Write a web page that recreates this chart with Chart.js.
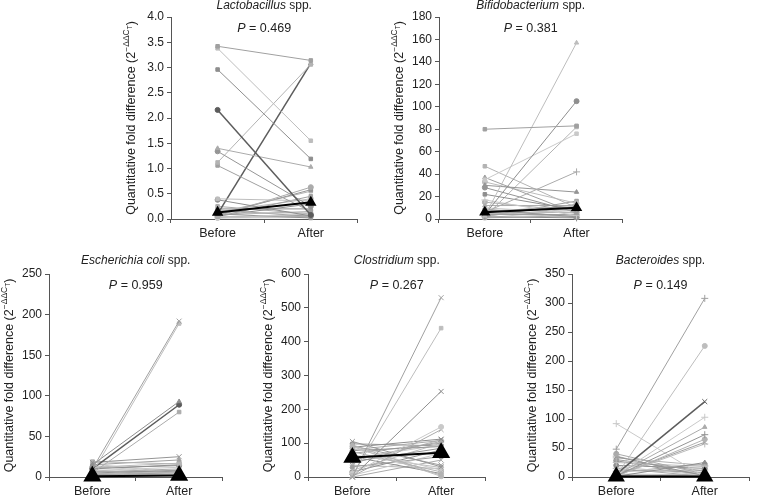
<!DOCTYPE html>
<html>
<head>
<meta charset="utf-8">
<script src="https://cdn.jsdelivr.net/npm/chart.js@4.4.1/dist/chart.umd.min.js"></script>
<style>
  html, body { margin: 0; padding: 0; background: #fff; }
  body { width: 757px; height: 496px; position: relative; overflow: hidden; }
  canvas { position: absolute; }
</style>
</head>
<body>
<canvas id="c-lacto"></canvas>
<canvas id="c-bifido"></canvas>
<canvas id="c-ecoli"></canvas>
<canvas id="c-clostr"></canvas>
<canvas id="c-bacter"></canvas>
<script>
const FONT = "'Liberation Sans', Arial, Helvetica, sans-serif";
const AXIS = "#555";
const GRAYS = ["#a0a0a0", "#bdbdbd", "#8e8e8e", "#c9c9c9", "#ababab", "#959595", "#b3b3b3"];

const groups = ["Before", "After"];

// ---- Lactobacillus spp. ----
const lactoBefore = [3.42, 3.38, 2.96, 2.16, 1.40, 1.34, 1.12, 1.06, 0.40, 0.38, 0.10, 0.06, 0.08, 0.12, 0.05, 0.15, 0.20, 0.02, 0.04, 0.10, 0.08, 0.03, 0.12, 0.06, 0.02, 0.25, 0.18];
const lactoAfter  = [3.14, 1.55, 1.19, 0.08, 1.03, 0.25, 3.06, 0.15, 0.36, 0.06, 3.08, 0.63, 0.58, 0.55, 0.45, 0.40, 0.20, 0.10, 0.05, 0.02, 0.15, 0.08, 0.12, 0.30, 0.03, 0.10, 0.05];
const lactoMedian = [0.13, 0.33];
const lactoTicks  = [0, 0.5, 1.0, 1.5, 2.0, 2.5, 3.0, 3.5, 4.0];

// ---- Bifidobacterium spp. ----
const bifidoBefore = [80, 3, 4, 35, 6, 30, 47, 37, 33, 22, 17, 12, 8, 5, 4, 3, 2, 10, 1, 7, 15, 2, 5, 3, 1, 9, 28, 2];
const bifidoAfter  = [83, 157, 105, 76, 42, 24, 10, 5, 14, 8, 3, 12, 2, 6, 4, 9, 1, 5, 3, 11, 7, 16, 2, 13, 8, 1, 6, 82];
const bifidoMedian = [6, 10];
const bifidoTicks  = [0, 20, 40, 60, 80, 100, 120, 140, 160, 180];

// ---- Escherichia coli spp. ----
const ecoliBefore = [10, 5, 15, 10, 5, 18, 19, 15, 12, 10, 8, 6, 5, 4, 3, 2, 1, 14, 9, 7, 3, 2, 1, 11, 16];
const ecoliAfter  = [192, 189, 93, 89, 80, 25, 16, 21, 17, 15, 12, 10, 8, 6, 5, 3, 2, 4, 1, 7, 3, 2, 9, 14, 5];
const ecoliMedian = [1, 2];
const ecoliTicks  = [0, 50, 100, 150, 200, 250];

// ---- Clostridium spp. ----
const clostrBefore = [0, 5, 0, 10, 2, 105, 95, 92, 90, 88, 85, 80, 78, 75, 70, 65, 60, 55, 50, 45, 40, 30, 20, 15, 5, 0, 98, 35];
const clostrAfter  = [530, 440, 253, 148, 140, 30, 5, 35, 2, 112, 20, 108, 90, 15, 100, 28, 10, 95, 105, 85, 110, 60, 100, 80, 70, 50, 92, 25];
const clostrMedian = [58, 72];
const clostrTicks  = [0, 100, 200, 300, 400, 500, 600];

// ---- Bacteroides spp. ----
const bacterBefore = [48, 2, 5, 3, 4, 2, 1, 3, 2, 1, 92, 40, 35, 33, 30, 25, 20, 18, 15, 12, 10, 8, 5, 3, 2, 36, 28];
const bacterAfter  = [308, 226, 130, 103, 86, 73, 65, 60, 57, 25, 0, 5, 2, 20, 10, 18, 15, 3, 1, 8, 12, 22, 4, 2, 1, 0, 3];
const bacterMedian = [1, 1];
const bacterTicks  = [0, 50, 100, 150, 200, 250, 300, 350];

// panel layout + styling
const panels = [
  { id: "c-lacto", genus: "Lactobacillus", p: "0.469", before: lactoBefore, after: lactoAfter, median: lactoMedian,
    ticks: lactoTicks, decimals: 1, marks: ["rect", "rect", "rect", "circle", "triangle", "circle"], dark: [3, 10],
    box: { x: 171, r: 362, top: 17, bottom: 219 }, titleDy: -11, medRadius: 4.6 },
  { id: "c-bifido", genus: "Bifidobacterium", p: "0.381", before: bifidoBefore, after: bifidoAfter, median: bifidoMedian,
    ticks: bifidoTicks, decimals: 0, marks: ["rect", "triangle", "circle", "rect", "cross", "triangle"], dark: [],
    box: { x: 439, r: 627, top: 17, bottom: 219 }, titleDy: -11, medRadius: 4.6 },
  { id: "c-ecoli", genus: "Escherichia coli", p: "0.959", before: ecoliBefore, after: ecoliAfter, median: ecoliMedian,
    ticks: ecoliTicks, decimals: 0, marks: ["crossRot", "rect", "triangle", "circle", "rect"], dark: [3],
    box: { x: 49, r: 231, top: 274, bottom: 477 }, titleDy: -13, medRadius: 8.5 },
  { id: "c-clostr", genus: "Clostridium", p: "0.267", before: clostrBefore, after: clostrAfter, median: clostrMedian,
    ticks: clostrTicks, decimals: 0, marks: ["crossRot", "rect", "crossRot", "circle", "crossRot"], dark: [],
    box: { x: 308, r: 494, top: 274, bottom: 477 }, titleDy: -13, medRadius: 8.5 },
  { id: "c-bacter", genus: "Bacteroides", p: "0.149", before: bacterBefore, after: bacterAfter, median: bacterMedian,
    ticks: bacterTicks, decimals: 0, marks: ["cross", "circle", "crossRot", "cross", "triangle"], dark: [2],
    box: { x: 572, r: 757, top: 274, bottom: 477 }, titleDy: -13, medRadius: 8 }
];

const PAD = { left: 8, top: 24, right: 2 };
const Y_W = 40;
const X_H = 22;

function drawRich(ctx, parts, cx, cy) {
  let total = 0;
  parts.forEach((p) => { ctx.font = p[1]; total += ctx.measureText(p[0]).width; });
  let x = cx - total / 2;
  ctx.textAlign = "left";
  parts.forEach((p) => {
    ctx.font = p[1];
    ctx.fillText(p[0], x, cy + (p[2] || 0));
    x += ctx.measureText(p[0]).width;
  });
}

// titles, P values and the y axis title
const panelText = {
  id: "panelText",
  afterDraw(chart, args, opts) {
    const { ctx, chartArea: a } = chart;
    const cx = (a.left + a.right) / 2;
    ctx.save();
    ctx.fillStyle = "#222";
    ctx.textBaseline = "middle";
    drawRich(ctx, [[opts.genus, `italic 12px ${FONT}`], [" spp.", `12px ${FONT}`]], cx, a.top + opts.titleDy);
    drawRich(ctx, [["P", `italic 12.5px ${FONT}`], [" = " + opts.p, `12.5px ${FONT}`]], cx, a.top + 11.5);
    ctx.translate(a.left - 39, (a.top + a.bottom) / 2);
    ctx.rotate(-Math.PI / 2);
    drawRich(ctx, [
      ["Quantitative fold difference (2", `12.5px ${FONT}`, 0],
      ["\u2212\u0394\u0394C", `8.5px ${FONT}`, -5],
      ["T", `6.5px ${FONT}`, -2],
      [")", `12.5px ${FONT}`, 0]
    ], 0, 0);
    ctx.restore();
  }
};

function buildDatasets(pn) {
  const sets = [{
    data: pn.median,
    borderColor: "#000",
    borderWidth: 2,
    pointStyle: "triangle",
    pointRadius: pn.medRadius,
    pointBackgroundColor: "#000",
    pointBorderColor: "#000",
    clip: false
  }];
  pn.before.forEach((b, i) => {
    const dark = pn.dark.includes(i);
    const col = dark ? "#5c5c5c" : GRAYS[i % GRAYS.length];
    const mk = pn.marks[i % pn.marks.length];
    const isCross = mk === "cross" || mk === "crossRot";
    sets.push({
      data: [b, pn.after[i]],
      borderColor: col,
      borderWidth: dark ? 1.5 : 1,
      pointStyle: mk,
      pointRadius: isCross ? 3.5 : 2.5,
      pointBorderWidth: 1,
      pointBackgroundColor: col,
      pointBorderColor: col,
      clip: false
    });
  });
  return sets;
}

panels.forEach((pn) => {
  const b = pn.box;
  const canvas = document.getElementById(pn.id);
  const w = (b.r - b.x) + PAD.left + Y_W + PAD.right;
  const h = PAD.top + (b.bottom - b.top) + X_H;
  canvas.width = w;
  canvas.height = h;
  canvas.style.width = w + "px";
  canvas.style.height = h + "px";
  canvas.style.left = (b.x - PAD.left - Y_W) + "px";
  canvas.style.top = (b.top - PAD.top) + "px";

  new Chart(canvas, {
    type: "line",
    data: { labels: groups, datasets: buildDatasets(pn) },
    options: {
      responsive: false,
      animation: false,
      events: [],
      layout: { padding: { left: PAD.left, top: PAD.top, right: PAD.right, bottom: 0 } },
      plugins: {
        legend: { display: false },
        tooltip: { enabled: false },
        panelText: { genus: pn.genus, p: pn.p, titleDy: pn.titleDy }
      },
      scales: {
        x: {
          type: "category",
          offset: true,
          grid: { offset: true, drawOnChartArea: false, drawTicks: true, tickLength: 4, color: AXIS },
          border: { color: AXIS, width: 1 },
          ticks: { color: "#222", font: { family: FONT, size: 12.5 }, padding: 3, maxRotation: 0 },
          afterFit: (s) => { s.height = X_H; }
        },
        y: {
          min: 0,
          max: pn.ticks[pn.ticks.length - 1],
          afterBuildTicks: (s) => { s.ticks = pn.ticks.map((v) => ({ value: v })); },
          grid: { drawOnChartArea: false, drawTicks: true, tickLength: 4, color: AXIS },
          border: { color: AXIS, width: 1 },
          ticks: {
            color: "#222",
            font: { family: FONT, size: 12 },
            padding: 3,
            callback: (v) => Number(v).toFixed(pn.decimals)
          },
          afterFit: (s) => { s.width = Y_W; }
        }
      }
    },
    plugins: [panelText]
  });
});
</script>
</body>
</html>
